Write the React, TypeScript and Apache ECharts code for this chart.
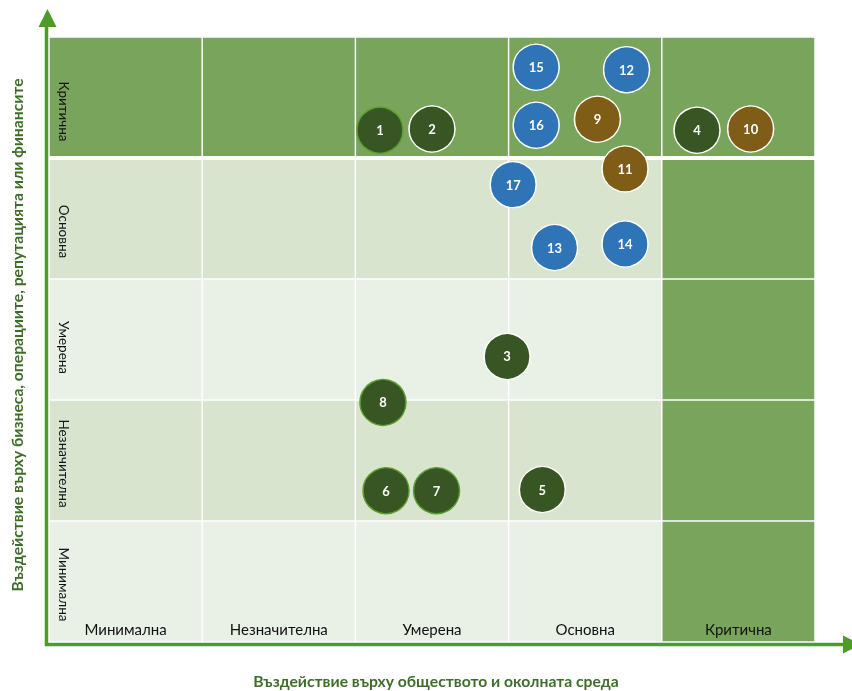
import React, { useEffect, useRef } from 'react';
import * as echarts from 'echarts';

// Impact levels (columns left→right, rows bottom→top)
const levels = ['Минимална', 'Незначителна', 'Умерена', 'Основна', 'Критична'];
const xTitle = 'Въздействие върху обществото и околната среда';
const yTitle = 'Въздействие върху бизнеса, операциите, репутацията или финансите';

// Cell shade per row (bottom→top) and column (left→right): 0 lighter, 1 light, 2 strong
const cellShade = [
  [0, 0, 0, 0, 2],
  [1, 1, 1, 1, 2],
  [0, 0, 0, 0, 2],
  [1, 1, 1, 1, 2],
  [2, 2, 2, 2, 2],
];

// Risks
const riskIds = [1, 2, 3, 4, 5, 6, 7, 8, 9, 10, 11, 12, 13, 14, 15, 16, 17];
const riskX = [2.16, 2.5, 2.99, 4.23, 3.22, 2.2, 2.53, 2.18, 3.58, 4.58, 3.76, 3.77, 3.3, 3.76, 3.18, 3.18, 3.03];
const riskY = [4.23, 4.24, 2.36, 4.23, 1.26, 1.25, 1.25, 1.98, 4.32, 4.24, 3.91, 4.73, 3.26, 3.29, 4.75, 4.27, 3.78];
const riskGroup = ['green', 'green', 'green', 'green', 'green', 'green', 'green', 'green', 'brown', 'brown', 'brown', 'blue', 'blue', 'blue', 'blue', 'blue', 'blue'];
const greenRimIds = [1, 6, 7, 8];

const groupColors: Record<string, string> = { green: '#375623', brown: '#7f5d17', blue: '#2e74b7' };
const shadeColors = ['#e9f0e6', '#d9e4cf', '#79a45b'];
const rowLabelShift = [3, 3, 8, 13, 14];
const FONT = 'Lato, "Noto Sans", sans-serif';

export default function App() {
  const ref = useRef<HTMLDivElement>(null);
  useEffect(() => {
    if (!ref.current) return;
    const chart = echarts.init(ref.current, null, { renderer: 'svg' });

    const cellData: number[][] = [];
    cellShade.forEach((row, r) => row.forEach((s, c) => cellData.push([c, r, s])));

    const groups = ['green', 'brown', 'blue'];
    const scatterSeries = groups.map((g) => ({
      type: 'scatter',
      name: g,
      symbol: 'circle',
      symbolSize: 46,
      z: 5,
      itemStyle: { color: groupColors[g], borderWidth: 1.5, borderColor: '#ffffff', opacity: 1 },
      label: {
        show: true,
        position: 'inside',
        formatter: (p: any) => String(p.value[2]),
        color: '#ffffff',
        fontWeight: 'bold',
        fontSize: 13,
        fontFamily: FONT,
      },
      data: riskIds
        .map((id, i) => ({ id, i }))
        .filter((d) => riskGroup[d.i] === g)
        .map((d) => ({
          value: [riskX[d.i], riskY[d.i], d.id],
          itemStyle: { borderColor: greenRimIds.includes(d.id) ? '#5c9e2e' : '#ffffff' },
        })),
    }));

    chart.setOption({
      animation: false,
      grid: { left: 49, right: 37, top: 37, bottom: 49 },
      xAxis: { type: 'value', min: 0, max: 5, interval: 1, show: false },
      yAxis: { type: 'value', min: 0, max: 5, interval: 1, show: false },
      series: [
        {
          type: 'custom',
          z: 1,
          silent: true,
          data: cellData,
          renderItem: (_params: any, api: any) => {
            const col = api.value(0);
            const row = api.value(1);
            const shade = api.value(2);
            const p0 = api.coord([col, row + 1]);
            const p1 = api.coord([col + 1, row]);
            const g = 0.75;
            let top = p0[1] + g;
            let bottom = p1[1] - g;
            if (row === 4) bottom = p1[1] - 2;
            if (row === 3) top = p0[1] + 2;
            return {
              type: 'rect',
              shape: { x: p0[0] + g, y: top, width: p1[0] - p0[0] - 2 * g, height: bottom - top },
              style: { fill: shadeColors[shade] },
            };
          },
        },
        {
          type: 'custom',
          z: 2,
          silent: true,
          data: levels.map((_l, i) => [i]),
          renderItem: (params: any, api: any) => {
            const i = api.value(0);
            const p = api.coord([i + 0.5, 0]);
            return {
              type: 'text',
              x: p[0],
              y: p[1] - 13,
              style: {
                text: levels[i],
                fill: '#111111',
                fontSize: 15,
                fontFamily: FONT,
                align: 'center',
                verticalAlign: 'middle',
              },
            };
          },
        },
        {
          type: 'custom',
          z: 2,
          silent: true,
          data: levels.map((_l, i) => [i]),
          renderItem: (params: any, api: any) => {
            const i = api.value(0);
            const p = api.coord([0, i + 0.5]);
            return {
              type: 'text',
              x: p[0] + 15,
              y: p[1] + rowLabelShift[i],
              rotation: -Math.PI / 2,
              style: {
                text: levels[i],
                fill: '#111111',
                fontSize: 13.5,
                fontFamily: FONT,
                align: 'center',
                verticalAlign: 'middle',
              },
            };
          },
        },
        ...scatterSeries,
      ],
      graphic: [
        { type: 'line', shape: { x1: 46.5, y1: 26, x2: 46.5, y2: 646 }, style: { stroke: '#4e9b29', lineWidth: 3.5 } },
        { type: 'polygon', shape: { points: [[47.5, 9], [38.5, 27], [56.5, 27]] }, style: { fill: '#4e9b29' } },
        { type: 'line', shape: { x1: 45, y1: 644.5, x2: 844, y2: 644.5 }, style: { stroke: '#4e9b29', lineWidth: 3.5 } },
        { type: 'polygon', shape: { points: [[843, 635.5], [861, 644.5], [843, 653.5]] }, style: { fill: '#4e9b29' } },
        {
          type: 'text',
          x: 436,
          y: 681,
          style: {
            text: xTitle,
            fill: '#3e6d29',
            fontSize: 15.7,
            fontWeight: 'bold',
            fontFamily: FONT,
            align: 'center',
            verticalAlign: 'middle',
          },
        },
        {
          type: 'text',
          x: 17,
          y: 335,
          rotation: Math.PI / 2,
          style: {
            text: yTitle,
            fill: '#3e6d29',
            fontSize: 15.7,
            fontWeight: 'bold',
            fontFamily: FONT,
            align: 'center',
            verticalAlign: 'middle',
          },
        },
      ],
    });
    return () => chart.dispose();
  }, []);
  return <div ref={ref} style={{ position: 'fixed', left: 0, top: 0, width: 852, height: 691 }} />;
}
